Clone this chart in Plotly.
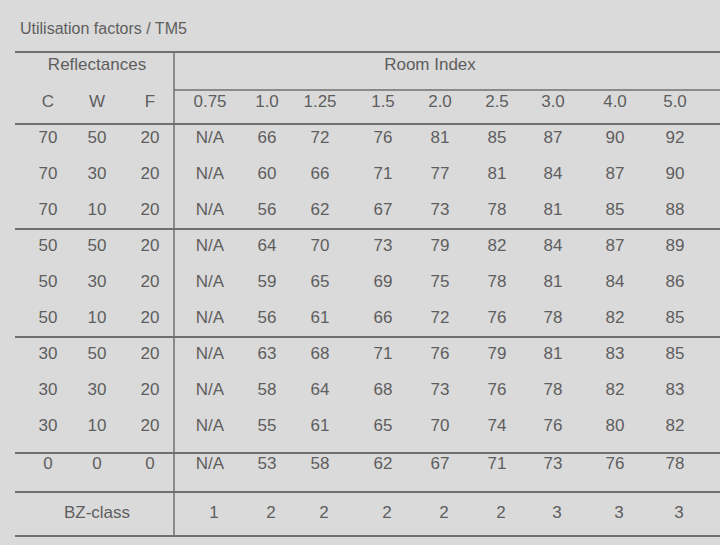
import plotly.graph_objects as go

title = "Utilisation factors / TM5"
refl_headers = ["C", "W", "F"]
room_index = ["0.75", "1.0", "1.25", "1.5", "2.0", "2.5", "3.0", "4.0", "5.0"]
refl = [[70, 50, 20], [70, 30, 20], [70, 10, 20],
        [50, 50, 20], [50, 30, 20], [50, 10, 20],
        [30, 50, 20], [30, 30, 20], [30, 10, 20],
        [0, 0, 0]]
factors = [
    ["N/A", 66, 72, 76, 81, 85, 87, 90, 92],
    ["N/A", 60, 66, 71, 77, 81, 84, 87, 90],
    ["N/A", 56, 62, 67, 73, 78, 81, 85, 88],
    ["N/A", 64, 70, 73, 79, 82, 84, 87, 89],
    ["N/A", 59, 65, 69, 75, 78, 81, 84, 86],
    ["N/A", 56, 61, 66, 72, 76, 78, 82, 85],
    ["N/A", 63, 68, 71, 76, 79, 81, 83, 85],
    ["N/A", 58, 64, 68, 73, 76, 78, 82, 83],
    ["N/A", 55, 61, 65, 70, 74, 76, 80, 82],
    ["N/A", 53, 58, 62, 67, 71, 73, 76, 78],
]
bz_class = [1, 2, 2, 2, 2, 2, 3, 3, 3]

# layout positions (pixel space)
xl = [48, 97, 150]
xr = [210, 267, 320, 383, 440, 497, 553, 615, 675]
row_y = [139, 175, 211, 247, 283, 319, 355, 391, 427, 465]
TXT = "#5e5e5e"
LINE = "#707070"
FONT = "Liberation Sans, Arial, sans-serif"

fig = go.Figure()
xs, ys, ts = [], [], []
for i, r in enumerate(refl):
    for j, v in enumerate(r):
        xs.append(xl[j]); ys.append(row_y[i]); ts.append(str(v))
    for j, v in enumerate(factors[i]):
        xs.append(xr[j]); ys.append(row_y[i]); ts.append(str(v))
for j, h in enumerate(refl_headers):
    xs.append(xl[j]); ys.append(103); ts.append(h)
for j, h in enumerate(room_index):
    xs.append(xr[j]); ys.append(103); ts.append(h)
for j, v in enumerate(bz_class):
    xs.append(xr[j] + 4); ys.append(514); ts.append(str(v))
xs += [97, 430, 97]; ys += [66, 66, 514]; ts += ["Reflectances", "Room Index", "BZ-class"]

fig.add_trace(go.Scatter(x=xs, y=ys, text=ts, mode="text", hoverinfo="skip",
                         textfont=dict(family=FONT, size=17, color=TXT)))

fig.add_annotation(x=18, y=28, text=title, showarrow=False, xanchor="left",
                   font=dict(family=FONT, size=16, color=TXT))

for y in [52, 124, 229, 337, 453, 492, 536]:
    fig.add_shape(type="line", x0=15, x1=720, y0=y, y1=y, line=dict(color=LINE, width=2))
fig.add_shape(type="line", x0=174, x1=720, y0=90, y1=90, line=dict(color=LINE, width=1.5))
fig.add_shape(type="line", x0=174, x1=174, y0=52, y1=536, line=dict(color=LINE, width=1.5))

fig.update_layout(width=720, height=545, margin=dict(l=0, r=0, t=0, b=0),
                  paper_bgcolor="#dadada", plot_bgcolor="#dadada", showlegend=False,
                  xaxis=dict(range=[0, 720], visible=False, fixedrange=True),
                  yaxis=dict(range=[545, 0], visible=False, fixedrange=True))
fig.write_html("out.html", config={"displayModeBar": False},
               post_script="document.body.style.margin='0';document.body.style.background='#dadada';")
